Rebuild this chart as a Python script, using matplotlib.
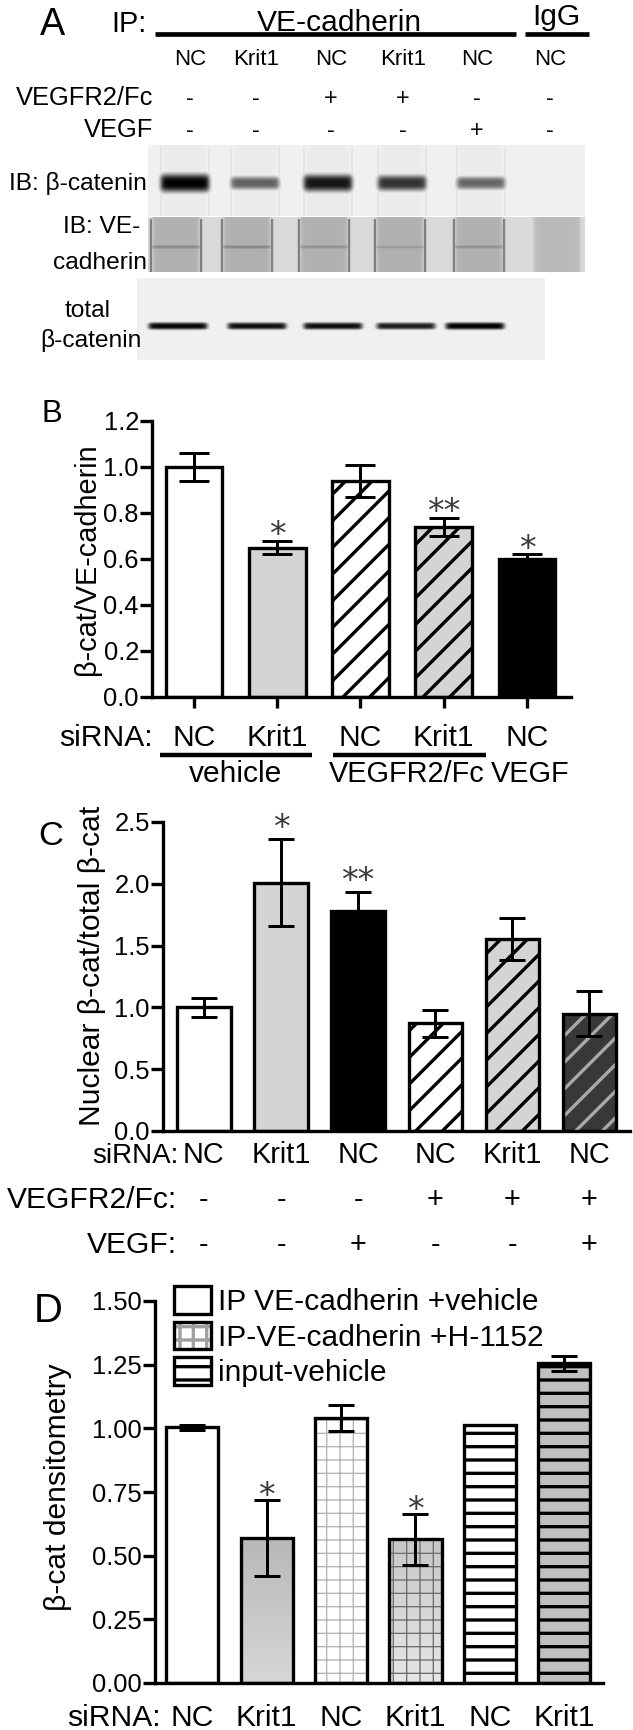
import numpy as np
import matplotlib
matplotlib.use('Agg')
import matplotlib.pyplot as plt
from matplotlib import transforms as mtrans
from matplotlib.patches import Patch
from matplotlib.legend_handler import HandlerTuple

plt.rcParams['font.family'] = ['Liberation Sans', 'DejaVu Sans']
plt.rcParams['hatch.linewidth'] = 3.0

# ---- data ----
# panel A (western blot)
a_sirna = ['NC', 'Krit1', 'NC', 'Krit1', 'NC', 'NC']
a_vegfr = ['-', '-', '+', '+', '-', '-']
a_vegf = ['-', '-', '-', '-', '+', '-']
a_ip_bcat = [1.0, 0.62, 0.92, 0.80, 0.60, 0.0]     # band darkness
a_ip_vecad = [0.45, 0.46, 0.43, 0.40, 0.43, 0.0]
a_total_bcat = [0.97, 0.93, 0.93, 0.88, 1.0]

# panel B
b_sirna = ['NC', 'Krit1', 'NC', 'Krit1', 'NC']
b_vals = [1.0, 0.65, 0.94, 0.74, 0.60]
b_err = [0.06, 0.03, 0.07, 0.04, 0.02]
b_stars = ['', '*', '', '**', '*']

# panel C
c_sirna = ['NC', 'Krit1', 'NC', 'NC', 'Krit1', 'NC']
c_vegfr = ['-', '-', '-', '+', '+', '+']
c_vegf = ['-', '-', '+', '-', '-', '+']
c_vals = [1.0, 2.01, 1.78, 0.87, 1.55, 0.95]
c_err = [0.08, 0.35, 0.15, 0.11, 0.17, 0.18]
c_stars = ['', '*', '**', '', '', '']

# panel D
d_sirna = ['NC', 'Krit1', 'NC', 'Krit1', 'NC', 'Krit1']
d_vals = [1.005, 0.57, 1.04, 0.565, 1.015, 1.255]
d_err = [0.01, 0.15, 0.05, 0.10, 0.0, 0.03]
d_stars = ['', '*', '', '*', '', '']
d_legend = ['IP VE-cadherin +vehicle', 'IP-VE-cadherin +H-1152', 'input-vehicle']

W, H, DPI = 633, 1730, 80
fig = plt.figure(figsize=(W / DPI, H / DPI), dpi=DPI)


def box(x0, y0, x1, y1):
    return [x0 / W, 1 - y1 / H, (x1 - x0) / W, (y1 - y0) / H]


# overlay in pixel coords for labels / lines
ov = fig.add_axes([0, 0, 1, 1], zorder=5)
ov.set_xlim(0, W)
ov.set_ylim(H, 0)
ov.axis('off')


def txt(x, y, s, size, ha='left', va='baseline', **kw):
    ov.text(x, y, s, fontsize=size, ha=ha, va=va, **kw)


def row(ax, y, labels, size):
    tr = mtrans.blended_transform_factory(ax.transData, ov.transData)
    for i, s in enumerate(labels):
        ov.text(i, y, s, transform=tr, fontsize=size, ha='center', va='baseline')


# ---------------- panel A ----------------
def blot_image(w, h, bg, centers, hw, band_y, levels, lane_fill, rim, thick, base):
    yy, xx = np.mgrid[0:h, 0:w] + 0.5
    img = np.full((h, w), bg, dtype=float)
    for i, (cx, lvl) in enumerate(zip(centers, levels)):
        d = np.abs(xx - cx)
        inside = 1 / (1 + np.exp(-(hw - d) / 1.5))
        img = np.maximum(img, lane_fill[i] * inside)
        if rim[i]:
            img = np.maximum(img, rim[i] * np.exp(-((d - hw) / 1.6) ** 2) * (yy > 2))
        sig = base + thick * lvl
        band = lvl * inside * np.exp(-np.abs((yy - band_y) / sig) ** 3)
        img = np.maximum(img, band)
    return img


blot_specs = [
    # box, centers(abs px), half width, band y(local), levels, bg, lane fill, rim
    ((148, 145, 585, 216), [185, 255, 328, 402, 481, 553], 24, 38, a_ip_bcat,
     0.06, [0.08] * 5 + [0.06], [0.12] * 5 + [0], 6.5, 2.5),
    ((148, 217, 585, 272), [176, 247, 324, 400, 479, 557], 25, 30, a_ip_vecad,
     0.15, [0.31] * 5 + [0.27], [0.55] * 5 + [0], 1.5, 2.0),
    ((137, 278, 545, 360), [178, 257, 333, 406, 475], 29, 48, a_total_bcat,
     0.06, [0.06] * 5, [0] * 5, 1.0, 2.6),
]
for (x0, y0, x1, y1), cen, hw, by, lv, bg, lf, rim, thick, base in blot_specs:
    bax = fig.add_axes(box(x0, y0, x1, y1))
    img = blot_image(x1 - x0, y1 - y0, bg, [c - x0 for c in cen], hw, by, lv, lf, rim, thick, base)
    bax.imshow(img, cmap='gray_r', vmin=0, vmax=1, aspect='auto', interpolation='bilinear')
    bax.set_axis_off()

txt(40, 35, 'A', 34)
txt(111, 32, 'IP:', 26)
txt(339, 31, 'VE-cadherin', 27, ha='center')
txt(556, 25, 'IgG', 27, ha='center')
ov.plot([155, 516], [34, 34], color='black', lw=4.2, solid_capstyle='butt')
ov.plot([525, 589], [34, 34], color='black', lw=4.2, solid_capstyle='butt')
lane_x = [190, 256, 331, 403, 477, 550]
for x, s1, s2, s3 in zip(lane_x, a_sirna, a_vegfr, a_vegf):
    txt(x, 65, s1, 20, ha='center')
    txt(x, 105, s2, 21, ha='center')
    txt(x, 137, s3, 21, ha='center')
txt(153, 105, 'VEGFR2/Fc', 23, ha='right')
txt(153, 137, 'VEGF', 23, ha='right')
txt(147, 190, 'IB: \u03b2-catenin', 22, ha='right')
txt(140, 233, 'IB: VE-', 22, ha='right')
txt(147, 269, 'cadherin', 22, ha='right')
txt(88, 317, 'total', 22, ha='center')
txt(91, 347, '\u03b2-catenin', 22, ha='center')


# ---------------- bar helper ----------------
def bars(ax, vals, errs, styles, width, capsize, stars, star_off):
    for i, (v, (fc, hatch, hc, hlw)) in enumerate(zip(vals, styles)):
        if isinstance(fc, tuple):
            # vertical grey gradient fill clipped to the bar
            clip = ax.bar(i, v, width, facecolor='none', linewidth=0, zorder=2)[0]
            grad = np.linspace(fc[0], fc[1], 64)[:, None]
            im = ax.imshow(grad, cmap='gray', vmin=0, vmax=1, aspect='auto',
                           extent=(i - width / 2, i + width / 2, 0, v), zorder=2,
                           interpolation='bilinear')
            im.set_clip_path(clip)
        else:
            ax.bar(i, v, width, color=fc, linewidth=0, zorder=2)
        if hatch:
            p = ax.bar(i, v, width, facecolor='none', edgecolor=hc, hatch=hatch,
                       linewidth=0, zorder=3)[0]
            if hasattr(p, 'set_hatch_linewidth'):
                p.set_hatch_linewidth(hlw)
        ax.bar(i, v, width, facecolor='none', edgecolor='black', linewidth=3, zorder=4)
    ax.errorbar(range(len(vals)), vals, yerr=errs, fmt='none', ecolor='black',
                elinewidth=2.7, capsize=capsize, capthick=2.7, zorder=5)
    for i, s in enumerate(stars):
        if s:
            ax.annotate(s, xy=(i, vals[i] + errs[i]), xytext=(0, star_off),
                        textcoords='offset points', ha='center', va='baseline',
                        fontsize=30, family='DejaVu Sans', color='#3a3a3a',
                        zorder=6, annotation_clip=False)


def style_axes(ax, xticks):
    for sp in ['top', 'right']:
        ax.spines[sp].set_visible(False)
    for sp in ['left', 'bottom']:
        ax.spines[sp].set_linewidth(3)
    ax.tick_params(axis='y', direction='out', length=10.8, width=3, pad=1, labelsize=23)
    if xticks:
        ax.tick_params(axis='x', direction='out', length=10, width=3, labelbottom=False)
    else:
        ax.tick_params(axis='x', length=0, labelbottom=False)
    ax.set_facecolor('none')


LG = '#d4d4d4'

# ---------------- panel B ----------------
axB = fig.add_axes(box(152, 421, 571, 697))
b_styles = [('white', None, None, 0), (LG, None, None, 0), ('white', '/', 'black', 3),
            (LG, '/', 'black', 3), ('black', None, None, 0)]
bars(axB, b_vals, b_err, b_styles, 0.68, 13.5, b_stars, -4)
axB.set_xlim(-0.505, 4.53)
axB.set_ylim(0, 1.2)
axB.set_yticks(np.arange(0, 1.21, 0.2))
axB.set_yticklabels([f'{t:.1f}' for t in np.arange(0, 1.21, 0.2)])
axB.set_xticks(range(len(b_vals)))
style_axes(axB, True)
txt(42, 422, 'B', 28)
txt(87, 559, '\u03b2-cat/VE-cadherin', 26, ha='center', va='center', rotation=90)
txt(153, 746, 'siRNA:', 27, ha='right')
row(axB, 746, b_sirna, 27)
ov.plot([160, 312], [755, 755], color='black', lw=4, solid_capstyle='butt')
ov.plot([333, 486], [755, 755], color='black', lw=4, solid_capstyle='butt')
txt(236, 782, 'vehicle', 27, ha='center')
txt(407, 782, 'VEGFR2/Fc', 26, ha='center')
txt(530, 782, 'VEGF', 26, ha='center')

# ---------------- panel C ----------------
axC = fig.add_axes(box(163, 822, 630, 1131))
c_styles = [('white', None, None, 0), (LG, None, None, 0), ('black', None, None, 0),
            ('white', '/', 'black', 3), (LG, '/', 'black', 3), ('#383838', '/', '#a8a8a8', 3)]
bars(axC, c_vals, c_err, c_styles, 0.69, 12, c_stars, 1)
axC.set_xlim(-0.532, 5.53)
axC.set_ylim(0, 2.5)
axC.set_yticks(np.arange(0, 2.51, 0.5))
axC.set_yticklabels([f'{t:.1f}' for t in np.arange(0, 2.51, 0.5)])
style_axes(axC, False)
txt(38, 845, 'C', 31)
txt(92, 966, 'Nuclear \u03b2-cat/total \u03b2-cat', 27, ha='center', va='center', rotation=90)
txt(178, 1163, 'siRNA:', 25, ha='right')
row(axC, 1163, c_sirna, 26)
txt(177, 1208, 'VEGFR2/Fc:', 27, ha='right')
row(axC, 1208, c_vegfr, 26)
txt(177, 1253, 'VEGF:', 27, ha='right')
row(axC, 1253, c_vegf, 26)

# ---------------- panel D ----------------
axD = fig.add_axes(box(155, 1301, 603, 1683))
d_styles = [('white', None, None, 0), ((0.72, 0.84), None, None, 0), ('white', '+', '#b4b4b4', 1.2),
            ((0.78, 0.9), '+', '#6e6e6e', 1.2), ('white', '-', 'black', 3), ('#c0c0c0', '-', 'black', 3)]
bars(axD, d_vals, d_err, d_styles, 0.70, 12, d_stars, -6)
axD.set_xlim(-0.5, 5.52)
axD.set_ylim(0, 1.5)
axD.set_yticks(np.arange(0, 1.51, 0.25))
axD.set_yticklabels([f'{t:.2f}' for t in np.arange(0, 1.51, 0.25)])
style_axes(axD, False)
txt(34, 1322, 'D', 36)
txt(58, 1487, '\u03b2-cat densitometry', 27, ha='center', va='center', rotation=90)
txt(161, 1726, 'siRNA:', 27, ha='right')
row(axD, 1726, d_sirna, 27)

h1 = Patch(facecolor='white', edgecolor='black', linewidth=3)
h2 = (Patch(facecolor='white', edgecolor='#a0a0a0', hatch='+', linewidth=0),
      Patch(facecolor='none', edgecolor='black', linewidth=3))
h3 = (Patch(facecolor='white', edgecolor='black', hatch='-', linewidth=0),
      Patch(facecolor='none', edgecolor='black', linewidth=3))
axD.legend([h1, h2, h3], d_legend, handler_map={tuple: HandlerTuple(ndivide=1, pad=0)},
           loc='upper left', bbox_to_anchor=(174 / W, 1 - 1286 / H), bbox_transform=fig.transFigure,
           frameon=False, fontsize=27, handlelength=1.23, handleheight=1.05,
           handletextpad=0.25, labelspacing=0.18, borderpad=0, borderaxespad=0)

fig.savefig('out.png', dpi=DPI)
